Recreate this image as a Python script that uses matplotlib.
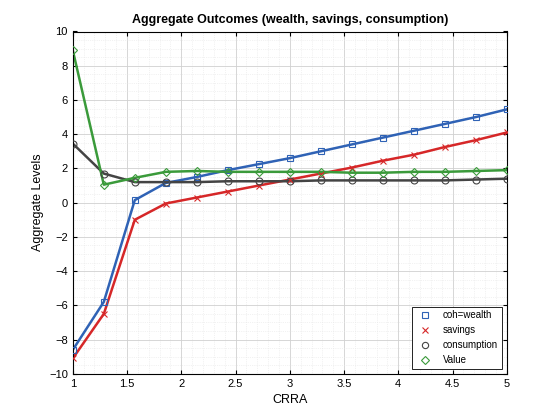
import numpy as np
import matplotlib
matplotlib.use('Agg')
import matplotlib.pyplot as plt

crra = np.linspace(1, 5, 15)
coh = [-8.6, -5.8, 0.15, 1.15, 1.5, 1.9, 2.25, 2.6, 3.0, 3.4, 3.8, 4.2, 4.6, 5.0, 5.45]
savings = [-9.1, -6.5, -1.0, -0.05, 0.3, 0.65, 1.0, 1.35, 1.7, 2.05, 2.45, 2.8, 3.25, 3.65, 4.1]
consumption = [3.45, 1.7, 1.2, 1.2, 1.2, 1.25, 1.25, 1.25, 1.3, 1.3, 1.3, 1.3, 1.3, 1.35, 1.4]
value = [8.9, 1.05, 1.45, 1.8, 1.85, 1.8, 1.8, 1.8, 1.8, 1.75, 1.75, 1.8, 1.8, 1.85, 1.9]

plt.rcParams['font.family'] = ['Liberation Sans', 'DejaVu Sans']
fig = plt.figure(figsize=(5.6, 4.2), dpi=100)
ax = fig.add_axes([0.13, 0.11, 0.775, 0.815])

series = [
    (coh, '#2f62b5', 's', 'coh=wealth'),
    (savings, '#d62728', 'x', 'savings'),
    (consumption, '#444444', 'o', 'consumption'),
    (value, '#3a9a3a', 'D', 'Value'),
]
for y, c, m, lab in series:
    ax.plot(crra, y, color=c, lw=1.8, zorder=2)
    ax.plot(crra, y, ls='none', marker=m, color=c, mfc='none',
            ms=5 if m != 'D' else 4.5, mew=0.8, label=lab, zorder=3)

ax.set_xlim(1, 5)
ax.set_ylim(-10, 10)
ax.set_xticks(np.arange(1, 5.01, 0.5))
ax.set_xticklabels(['1', '1.5', '2', '2.5', '3', '3.5', '4', '4.5', '5'])
ax.set_yticks(np.arange(-10, 11, 2))
ax.minorticks_on()
ax.grid(True, which='major', color='#d0d0d0', lw=0.6)
ax.grid(True, which='minor', color='#e6e6e6', lw=0.5, ls=':')
ax.tick_params(labelsize=8, direction='in', which='both', top=True, right=True)
ax.tick_params(which='minor', length=0)
ax.tick_params(which='major', length=3)
ax.set_xlabel('CRRA', fontsize=9)
ax.set_ylabel('Aggregate Levels', fontsize=9)
ax.set_title('Aggregate Outcomes (wealth, savings, consumption)', fontsize=9, fontweight='bold')
leg = ax.legend(loc='lower right', fontsize=7, fancybox=False, edgecolor='black',
                framealpha=1, markerscale=0.9)
leg.get_frame().set_linewidth(0.6)
fig.savefig('out.png', dpi=100)
